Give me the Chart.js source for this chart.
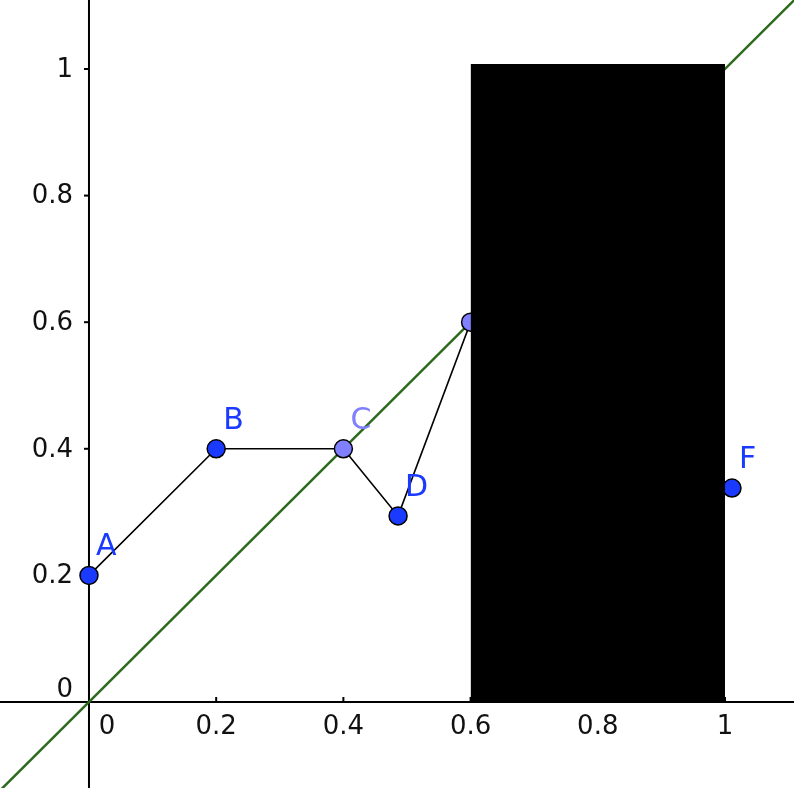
<!DOCTYPE html>
<html>
<head>
<meta charset="utf-8">
<script src="https://cdn.jsdelivr.net/npm/chart.js@4/dist/chart.umd.min.js"></script>
<style>
  html, body { margin: 0; padding: 0; background: #fff; }
  canvas { display: block; }
</style>
</head>
<body>
<canvas id="plot" width="794" height="788"></canvas>
<script>
// --- DATA ---
const pointNames = ['A', 'B', 'C', 'D', 'E', 'F'];
const pointX = [0, 0.2, 0.4, 0.486, 0.6, 1.011];
const pointY = [0.2, 0.4, 0.4, 0.294, 0.6, 0.338];
const diagX = [-0.2, 1.2];           // y = x line
const rectX = [0.6, 1.0];            // black block, from y = 0 up to rectTop
const rectTop = 1.008;
const xTicks = [0, 0.2, 0.4, 0.6, 0.8, 1];
const yTicks = [0, 0.2, 0.4, 0.6, 0.8, 1];
const tickLabel = v => String(v);

// --- STYLE ---
const BLUE = '#1a3bff';
const LILAC = '#8080ff';
const GREEN = '#2d6a1e';
const pointFill = ['blue', 'blue', 'lilac', 'blue', 'lilac', 'blue'].map(c => c === 'blue' ? BLUE : LILAC);

// axes through the origin, drawn under the datasets
const axesPlugin = {
  id: 'axes',
  beforeDatasetsDraw(chart) {
    const ctx = chart.ctx;
    const xs = chart.scales.x, ys = chart.scales.y;
    const ox = xs.getPixelForValue(0), oy = ys.getPixelForValue(0);
    ctx.save();
    ctx.strokeStyle = '#000';
    ctx.lineWidth = 2;
    ctx.beginPath();
    ctx.moveTo(0, oy); ctx.lineTo(chart.width, oy);
    ctx.moveTo(ox, 0); ctx.lineTo(ox, chart.height);
    ctx.stroke();

    ctx.font = '26px "DejaVu Sans"';
    ctx.fillStyle = '#111';
    // x ticks
    ctx.textAlign = 'center';
    ctx.textBaseline = 'alphabetic';
    xTicks.forEach(v => {
      const px = xs.getPixelForValue(v);
      if (v !== 0) {
        ctx.beginPath(); ctx.moveTo(px, oy - 5); ctx.lineTo(px, oy); ctx.stroke();
        ctx.fillText(tickLabel(v), px, oy + 32);
      } else {
        ctx.fillText(tickLabel(v), px + 18, oy + 32);
      }
    });
    // y ticks
    ctx.textAlign = 'right';
    ctx.textBaseline = 'middle';
    yTicks.forEach(v => {
      const py = ys.getPixelForValue(v);
      if (v !== 0) {
        ctx.beginPath(); ctx.moveTo(ox - 5, py); ctx.lineTo(ox, py); ctx.stroke();
        ctx.fillText(tickLabel(v), ox - 16, py + 1);
      } else {
        ctx.fillText(tickLabel(v), ox - 16, py - 12);
      }
    });
    ctx.restore();
  }
};

// point names, drawn right after the polyline so the block can hide them
const namesPlugin = {
  id: 'names',
  afterDatasetDraw(chart, args) {
    if (args.index !== 1) return;
    const ctx = chart.ctx;
    const meta = chart.getDatasetMeta(1);
    ctx.save();
    ctx.font = '30px "DejaVu Sans"';
    ctx.textAlign = 'left';
    ctx.textBaseline = 'alphabetic';
    meta.data.forEach((pt, i) => {
      ctx.fillStyle = pointFill[i] === LILAC ? '#7f7fff' : BLUE;
      ctx.fillText(pointNames[i], pt.x + 7, pt.y - 20);
    });
    ctx.restore();
  }
};

const ctx = document.getElementById('plot').getContext('2d');
new Chart(ctx, {
  type: 'line',
  data: {
    datasets: [
      {
        // black block
        data: rectX.map(x => ({ x: x, y: rectTop })),
        borderWidth: 0,
        pointRadius: 0,
        backgroundColor: '#000',
        fill: 'origin',
        order: 0
      },
      {
        // polyline A..F
        data: pointX.map((x, i) => ({ x: x, y: pointY[i] })),
        borderColor: '#000',
        borderWidth: 1.6,
        pointRadius: 9,
        pointBorderWidth: 1.5,
        pointBorderColor: '#000',
        pointBackgroundColor: pointFill,
        tension: 0,
        fill: false,
        order: 1
      },
      {
        // y = x
        data: diagX.map(x => ({ x: x, y: x })),
        borderColor: GREEN,
        borderWidth: 2.5,
        pointRadius: 0,
        fill: false,
        order: 2
      }
    ]
  },
  options: {
    responsive: false,
    animation: false,
    devicePixelRatio: 1,
    layout: { padding: 0, autoPadding: false },
    plugins: { legend: { display: false }, tooltip: { enabled: false } },
    scales: {
      x: { type: 'linear', min: -0.1399, max: 1.1085, display: false },
      y: { type: 'linear', min: -0.1359, max: 1.109, display: false }
    }
  },
  plugins: [axesPlugin, namesPlugin]
});
</script>
</body>
</html>
